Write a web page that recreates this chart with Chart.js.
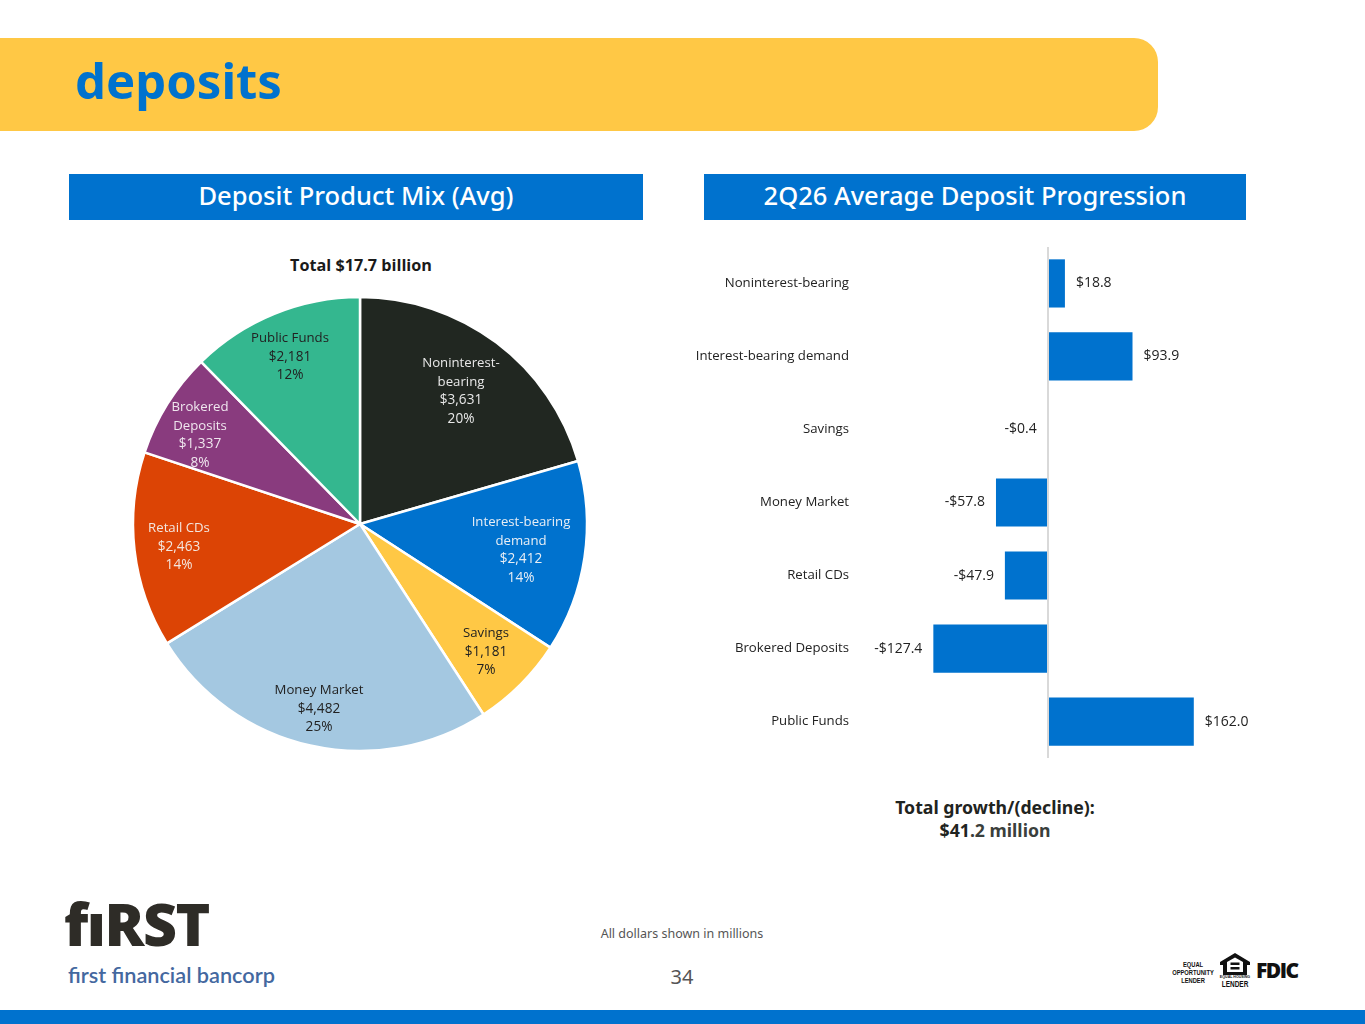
<!DOCTYPE html>
<html>
<head>
<meta charset="utf-8">
<title>deposits</title>
<script src="https://cdn.jsdelivr.net/npm/chart.js@4/dist/chart.umd.min.js"></script>
<style>
  html, body { margin: 0; padding: 0; background: #fff; }
  #page { position: relative; width: 1365px; height: 1024px; overflow: hidden; font-family: "Noto Sans", sans-serif; }
  #page > div, #page > canvas, #page > svg { position: absolute; }
  #band { left: 0; top: 38px; width: 1158px; height: 93px; background: #ffc845; border-radius: 0 24px 24px 0; }
  #title { left: 75px; top: 44px; font-size: 49px; line-height: 72px; font-weight: 700; color: #0072ce; }
  .head { top: 174px; height: 46px; line-height: 43px; background: #0072ce; color: #fff; text-align: center; font-size: 25.5px; font-weight: 500; }
  #total { left: 211px; width: 300px; top: 255px; text-align: center; font: 700 16.2px/21px "Open Sans"; color: #1a1a1a; }
  #growth { left: 845px; width: 300px; top: 796px; text-align: center; font-size: 17.7px; line-height: 23px; font-weight: 700; color: #1f2421; }
  #growth span { color: #3a3f3c; }
  #note { left: 532px; width: 300px; top: 925px; text-align: center; font-size: 12.500px; line-height: 17px; color: #555; }
  #pageno { left: 632px; width: 100px; top: 963px; text-align: center; font-size: 20px; line-height: 28px; color: #555; }
  #foot { left: 0; top: 1010px; width: 1365px; height: 14px; background: #0072ce; }
  #logo1 { left: 64px; top: 883px; font: 900 59px/80px "Open Sans"; letter-spacing: -1.5px; color: #2e2c27; }
  #logo2 { left: 68px; top: 961px; font: 600 21.7px/28px Lato; color: #44689f; }
  #eol { left: 1163px; width: 60px; top: 961px; text-align: center; font: 700 8px/8px "Liberation Sans"; color: #111; transform: scaleX(0.72); }
  #ehl1 { left: 1215px; width: 40px; top: 974px; text-align: center; font: 700 4px/5px "Liberation Sans"; color: #111; transform: scaleX(0.9); }
  #ehl2 { left: 1215px; width: 40px; top: 979px; text-align: center; font: 700 9px/10px "Liberation Sans"; color: #111; transform: scaleX(0.72); }
  #fdic { left: 1256px; top: 955px; font: 900 21px/30px "Open Sans"; letter-spacing: -1.5px; color: #111; }
</style>
</head>
<body>
<div id="page">
  <div id="band"></div>
  <div id="title">deposits</div>
  <div class="head" style="left:69px;width:574px">Deposit Product Mix (Avg)</div>
  <div class="head" style="left:704px;width:542px">2Q26 Average Deposit Progression</div>
  <div id="total">Total $17.7 billion</div>
  <canvas id="mixChart" width="480" height="480" style="left:120px;top:284px"></canvas>
  <canvas id="progressChart" width="600" height="565" style="left:680px;top:220px"></canvas>
  <div id="growth">Total growth/(decline):<br>$41<span>.2 million</span></div>
  <div id="logo1">fıRST</div>
  <div id="logo2">first financial bancorp</div>
  <div id="note">All dollars shown in millions</div>
  <div id="pageno">34</div>
  <div id="eol">EQUAL<br>OPPORTUNITY<br>LENDER</div>
  <svg width="30" height="22" viewBox="0 0 30 22" style="left:1220px;top:953px">
    <path d="M15 0 L30 9 V12 H27 V22 H3 V12 H0 V9 Z M7 9 V19 H23 V9 L15 4.500 Z M10.500 9.500 H19.500 V12 H10.500 Z M10.500 14 H19.500 V16.500 H10.500 Z" fill="#111" fill-rule="evenodd"/>
  </svg>
  <div id="ehl1">EQUAL HOUSING</div>
  <div id="ehl2">LENDER</div>
  <div id="fdic">FDIC</div>
  <div id="foot"></div>
</div>
<script>
var products = ['Noninterest-bearing', 'Interest-bearing demand', 'Savings', 'Money Market', 'Retail CDs', 'Brokered Deposits', 'Public Funds'];
var avgBalances = [3631, 2412, 1181, 4482, 2463, 1337, 2181];
var mixPercents = ['20%', '14%', '7%', '25%', '14%', '8%', '12%'];
var progression = [18.8, 93.9, -0.4, -57.8, -47.9, -127.4, 162.0];

var sliceColors = ['#212721', '#0072ce', '#ffc845', '#a4c8e1', '#dc4405', '#893b7e', '#34b78f'];
var labelColors = ['#e8e8e8', '#e8eef5', '#222', '#222', '#f3e6df', '#efe6ee', '#222'];
var sliceLines = [['Noninterest-', 'bearing'], ['Interest-bearing', 'demand'], ['Savings'], ['Money Market'], ['Retail CDs'], ['Brokered', 'Deposits'], ['Public Funds']];
// label block centre relative to the pie centre
var labelOffsets = [[101, -133], [161, 26], [126, 128], [-41, 185], [-181, 23], [-160, -89], [-70, -167]];

var textFont = '13.2px "Open Sans"';
var numberFont = '13.6px "Open Sans"';

function money(v) {
    return '$' + v.toLocaleString('en-US');
}

var pieLabels = {
    id: 'pieLabels',
    afterDatasetsDraw: function (chart) {
        var ctx = chart.ctx;
        var arcs = chart.getDatasetMeta(0).data;
        ctx.save();
        ctx.textAlign = 'center';
        ctx.textBaseline = 'middle';
        arcs.forEach(function (arc, i) {
            var names = sliceLines[i];
            var lines = names.concat([money(avgBalances[i]), mixPercents[i]]);
            var y = arc.y + labelOffsets[i][1] - (lines.length - 1) * 18.5 / 2;
            ctx.fillStyle = labelColors[i];
            lines.forEach(function (line, n) {
                ctx.font = n < names.length ? textFont : numberFont;
                ctx.fillText(line, arc.x + labelOffsets[i][0], y + n * 18.5);
            });
        });
        ctx.restore();
    }
};

new Chart(document.getElementById('mixChart').getContext('2d'), {
    type: 'pie',
    data: {
        labels: products,
        datasets: [{
            data: avgBalances,
            backgroundColor: sliceColors,
            borderColor: '#fff',
            borderWidth: 2.5
        }]
    },
    options: {
        responsive: false,
        animation: false,
        radius: 227,
        plugins: { legend: { display: false }, tooltip: { enabled: false } }
    },
    plugins: [pieLabels]
});

var barLabels = {
    id: 'barLabels',
    afterDatasetsDraw: function (chart) {
        var ctx = chart.ctx;
        var bars = chart.getDatasetMeta(0).data;
        ctx.save();
        ctx.font = '14px "Open Sans"';
        ctx.fillStyle = '#222';
        ctx.textBaseline = 'middle';
        bars.forEach(function (bar, i) {
            var v = progression[i];
            ctx.textAlign = v < 0 ? 'right' : 'left';
            var text = (v < 0 ? '-$' : '$') + Math.abs(v).toFixed(1);
            ctx.fillText(text, bar.x + (v < 0 ? -11 : 11), bar.y);
        });
        ctx.restore();
    }
};

new Chart(document.getElementById('progressChart').getContext('2d'), {
    type: 'bar',
    data: {
        labels: products,
        datasets: [{
            data: progression,
            backgroundColor: '#0072ce',
            barPercentage: 1,
            categoryPercentage: 0.66
        }]
    },
    options: {
        indexAxis: 'y',
        responsive: false,
        animation: false,
        layout: { padding: { right: 52 } },
        scales: {
            x: {
                min: -200,
                max: 200,
                border: { display: false },
                ticks: { display: false, stepSize: 100 },
                grid: {
                    z: 1,
                    drawTicks: false,
                    lineWidth: 2,
                    color: function (c) { return c.tick.value === 0 ? '#d9d9d9' : 'transparent'; }
                }
            },
            y: {
                afterFit: function (scale) { scale.width = 188; },
                border: { display: false },
                grid: { display: false, drawTicks: false },
                ticks: { color: '#222', font: { family: 'Open Sans', size: 13.2 }, padding: 19 }
            }
        },
        plugins: { legend: { display: false }, tooltip: { enabled: false } }
    },
    plugins: [barLabels]
});
</script>
</body>
</html>
